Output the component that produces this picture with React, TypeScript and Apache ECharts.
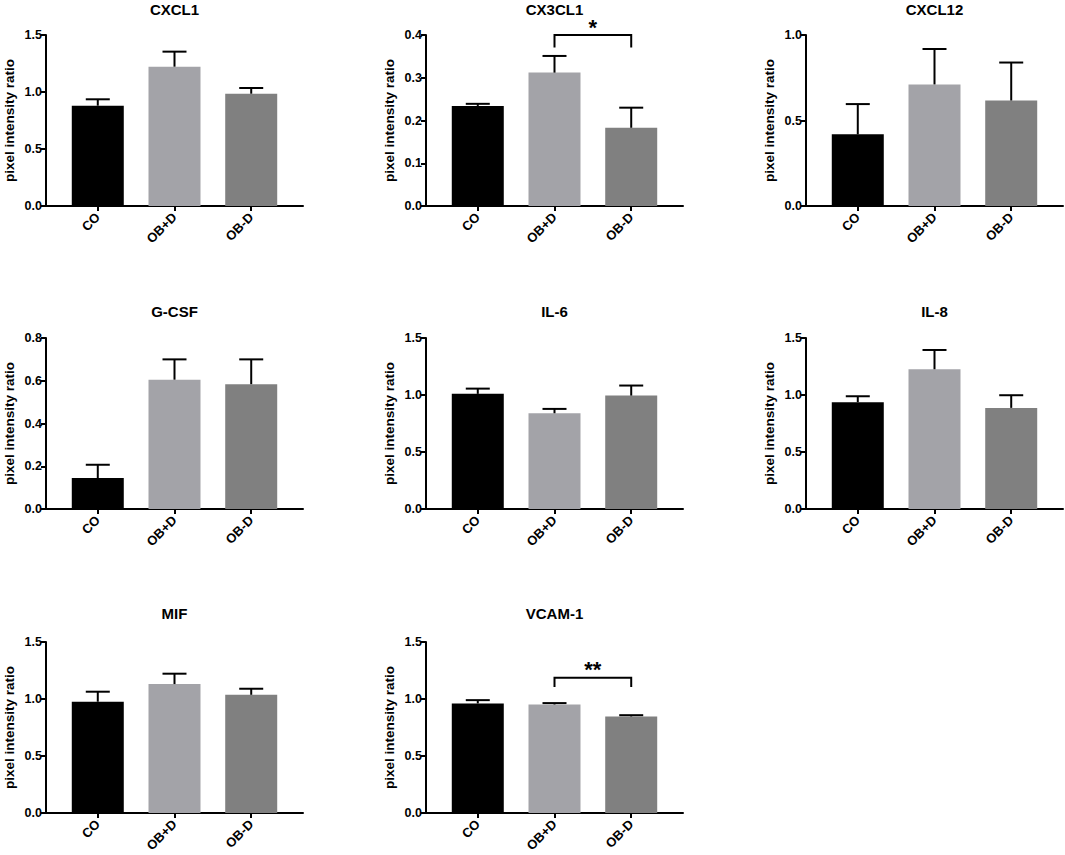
import React, { useEffect, useRef } from "react";
import * as echarts from "echarts";

const categories = ["CO", "OB+D", "OB-D"];
const panelTitles = ["CXCL1", "CX3CL1", "CXCL12", "G-CSF", "IL-6", "IL-8", "MIF", "VCAM-1"];

const cxcl1Mean = [0.88, 1.222, 0.985];
const cxcl1Sem = [0.056, 0.132, 0.05];
const cx3cl1Mean = [0.234, 0.312, 0.183];
const cx3cl1Sem = [0.005, 0.039, 0.047];
const cxcl12Mean = [0.419, 0.711, 0.617];
const cxcl12Sem = [0.177, 0.207, 0.222];
const gcsfMean = [0.145, 0.605, 0.584];
const gcsfSem = [0.062, 0.095, 0.116];
const il6Mean = [1.01, 0.84, 0.995];
const il6Sem = [0.046, 0.038, 0.088];
const il8Mean = [0.937, 1.226, 0.887];
const il8Sem = [0.052, 0.169, 0.111];
const mifMean = [0.976, 1.131, 1.037];
const mifSem = [0.088, 0.091, 0.053];
const vcamMean = [0.961, 0.952, 0.847];
const vcamSem = [0.029, 0.012, 0.011];

const panelMeans = [cxcl1Mean, cx3cl1Mean, cxcl12Mean, gcsfMean, il6Mean, il8Mean, mifMean, vcamMean];
const panelSems = [cxcl1Sem, cx3cl1Sem, cxcl12Sem, gcsfSem, il6Sem, il8Sem, mifSem, vcamSem];
const yMaxes = [1.5, 0.4, 1.0, 0.8, 1.5, 1.5, 1.5, 1.5];
const yIntervals = [0.5, 0.1, 0.5, 0.2, 0.5, 0.5, 0.5, 0.5];

// significance brackets: [panelIndex, fromCat, toCat, topY, legY, label]
const brackets: [number, number, number, number, number, string][] = [
  [1, 1, 2, 0.4, 0.371, "*"],
  [7, 1, 2, 1.187, 1.105, "**"],
];

const barColors = ["#000000", "#a3a3a8", "#808080"];
const FONT = "'Liberation Sans', Arial, Helvetica, sans-serif";

const colLefts = [46, 426, 806];
const rowTops = [35, 338, 642];
const titleYs = [9, 311, 613];
const GRID_W = 257;
const GRID_H = 171;

export default function App() {
  const ref = useRef<HTMLDivElement>(null);

  useEffect(() => {
    document.body.style.margin = "0";
    const chart = echarts.init(ref.current!, null, { renderer: "svg" });

    const grids: any[] = [];
    const xAxes: any[] = [];
    const yAxes: any[] = [];
    const series: any[] = [];
    const graphics: any[] = [];

    panelTitles.forEach((t, i) => {
      const col = i % 3;
      const row = Math.floor(i / 3);
      const left = colLefts[col];
      const top = rowTops[row];
      grids.push({ left, top, width: GRID_W, height: GRID_H, containLabel: false });
      xAxes.push({
        type: "value",
        gridIndex: i,
        min: -0.675,
        max: 2.675,
        splitLine: { show: false },
        axisLine: { show: true, onZero: false, lineStyle: { color: "#000", width: 2 } },
        axisTick: { show: true, customValues: [0, 1, 2], length: 5, lineStyle: { color: "#000", width: 2 } },
        axisLabel: {
          customValues: [0, 1, 2],
          formatter: (v: number) => categories[Math.round(v)] ?? "",
          rotate: 45,
          margin: 9,
          color: "#000",
          fontWeight: "bold",
          fontSize: 13,
          fontFamily: FONT,
        },
      });
      yAxes.push({
        type: "value",
        gridIndex: i,
        min: 0,
        max: yMaxes[i],
        interval: yIntervals[i],
        name: "pixel intensity ratio",
        nameLocation: "middle",
        nameRotate: 90,
        nameGap: 30,
        nameTextStyle: { color: "#000", fontWeight: "bold", fontSize: 13.5, fontFamily: FONT },
        splitLine: { show: false },
        axisLine: { show: true, onZero: false, lineStyle: { color: "#000", width: 2 } },
        axisTick: { show: true, length: 5, lineStyle: { color: "#000", width: 2 } },
        axisLabel: {
          formatter: (v: number) => v.toFixed(1),
          margin: 4,
          color: "#000",
          fontWeight: "bold",
          fontSize: 12.5,
          fontFamily: FONT,
        },
      });
      const means = panelMeans[i];
      const sems = panelSems[i];
      series.push({
        type: "bar",
        xAxisIndex: i,
        yAxisIndex: i,
        barWidth: 52,
        data: means.map((m, k) => ({ value: [k, m], itemStyle: { color: barColors[k] } })),
      });
      series.push({
        type: "custom",
        xAxisIndex: i,
        yAxisIndex: i,
        encode: { x: 0, y: 1 },
        data: means.map((m, k) => [k, m, m + sems[k]]),
        renderItem: (_p: any, api: any) => {
          const x = api.value(0);
          const p0 = api.coord([x, api.value(1)]);
          const p1 = api.coord([x, api.value(2)]);
          return {
            type: "group",
            children: [
              { type: "line", shape: { x1: p0[0], y1: p0[1], x2: p1[0], y2: p1[1] }, style: { stroke: "#000", lineWidth: 2 } },
              { type: "line", shape: { x1: p1[0] - 12, y1: p1[1], x2: p1[0] + 12, y2: p1[1] }, style: { stroke: "#000", lineWidth: 2 } },
            ],
          };
        },
        z: 3,
      });
      graphics.push({
        type: "text",
        x: left + GRID_W / 2,
        y: titleYs[row],
        style: { text: t, align: "center", verticalAlign: "middle", font: `bold 15px ${FONT}`, fill: "#000" },
      });
    });

    brackets.forEach(([pi, a, b, topY, legY, label]) => {
      series.push({
        type: "custom",
        xAxisIndex: pi,
        yAxisIndex: pi,
        encode: { x: [0, 1], y: [2, 3] },
        data: [[a, b, topY, legY]],
        renderItem: (_p: any, api: any) => {
          const pa = api.coord([api.value(0), api.value(3)]);
          const pat = api.coord([api.value(0), api.value(2)]);
          const pb = api.coord([api.value(1), api.value(3)]);
          const pbt = api.coord([api.value(1), api.value(2)]);
          return {
            type: "group",
            children: [
              {
                type: "polyline",
                shape: { points: [pa, pat, pbt, pb] },
                style: { stroke: "#000", lineWidth: 2, fill: "none" },
              },
              {
                type: "text",
                x: (pat[0] + pbt[0]) / 2,
                y: pat[1] + 3,
                style: { text: label, align: "center", verticalAlign: "bottom", font: `bold 22px ${FONT}`, fill: "#000" },
              },
            ],
          };
        },
      });
    });

    chart.setOption({
      animation: false,
      backgroundColor: "#fff",
      grid: grids,
      xAxis: xAxes,
      yAxis: yAxes,
      series,
      graphic: graphics,
    });
    return () => chart.dispose();
  }, []);

  return <div ref={ref} style={{ width: 1065, height: 855 }} />;
}
